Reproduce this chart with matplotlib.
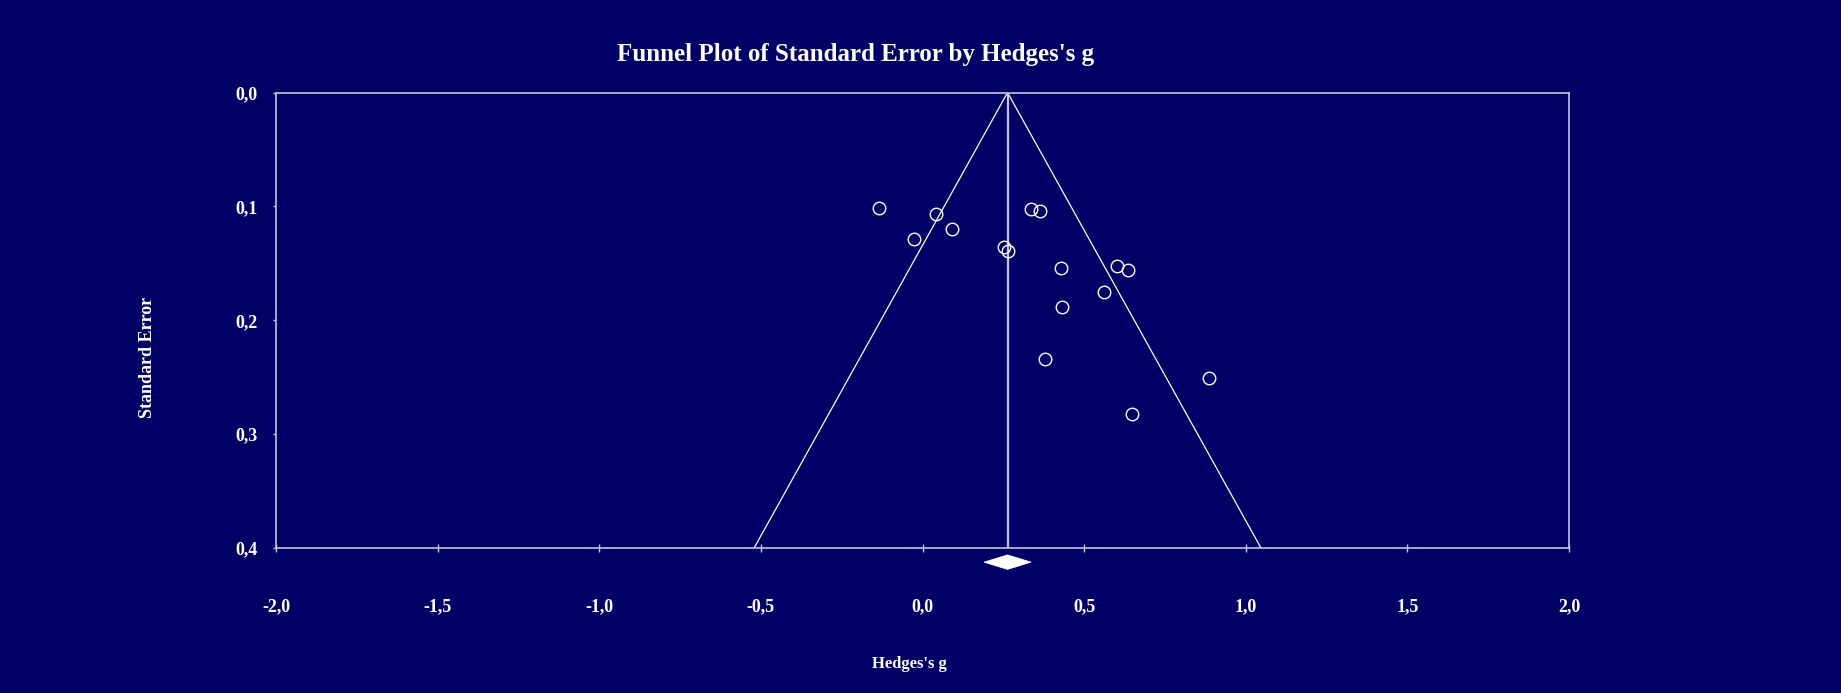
import matplotlib
matplotlib.use("Agg")
import matplotlib.pyplot as plt
from matplotlib.patches import Polygon

# Study effect sizes (Hedges's g) and their standard errors
hedges_g = [-0.136, 0.043, 0.090, -0.026, 0.253, 0.264, 0.337, 0.362,
            0.428, 0.602, 0.635, 0.562, 0.431, 0.380, 0.886, 0.649]
std_err = [0.101, 0.107, 0.120, 0.129, 0.136, 0.139, 0.102, 0.104,
           0.154, 0.152, 0.156, 0.175, 0.188, 0.234, 0.251, 0.282]

# Pooled estimate and its confidence interval
pooled_g = 0.263
pooled_lo = 0.190
pooled_hi = 0.336

x_ticks = [-2.0, -1.5, -1.0, -0.5, 0.0, 0.5, 1.0, 1.5, 2.0]
y_ticks = [0.0, 0.1, 0.2, 0.3, 0.4]

BG = "#000066"
FG = "white"
SPINE = "#c4c4dc"
FONT = "Liberation Serif"


def comma(v):
    return f"{v:.1f}".replace(".", ",")


fig = plt.figure(figsize=(18.41, 6.93), dpi=100, facecolor=BG)
ax = fig.add_axes([0.1499, 0.2092, 0.7024, 0.6573], facecolor=BG)

x_min, x_max = x_ticks[0], x_ticks[-1]
se_min, se_max = y_ticks[0], y_ticks[-1]
ax.set_xlim(x_min, x_max)
ax.set_ylim(se_max, se_min)

# Pseudo 95% confidence funnel around the pooled effect
se_line = [se_min, se_max]
ax.plot([pooled_g - 1.96 * s for s in se_line], se_line, color=FG, lw=0.9)
ax.plot([pooled_g + 1.96 * s for s in se_line], se_line, color=FG, lw=0.9)
ax.plot([pooled_g, pooled_g], se_line, color=SPINE, lw=1.6)

# Individual studies
ax.plot(hedges_g, std_err, linestyle="none", marker="o", markersize=9,
        markerfacecolor="none", markeredgecolor=FG, markeredgewidth=1.0,
        clip_on=False)

# Summary diamond just below the axis
span = se_max - se_min
y_mid = se_max + 0.031 * span
half_h = 0.016 * span
diamond = Polygon([(pooled_lo, y_mid), (pooled_g, y_mid - half_h),
                   (pooled_hi, y_mid), (pooled_g, y_mid + half_h)],
                  closed=True, facecolor=FG, edgecolor=FG, lw=0.5,
                  clip_on=False)
ax.add_patch(diamond)

for s in ax.spines.values():
    s.set_color(SPINE)
    s.set_linewidth(1.2)

ax.set_xticks(x_ticks)
ax.set_xticklabels([comma(v) for v in x_ticks])
ax.set_yticks(y_ticks)
ax.set_yticklabels([comma(v) for v in y_ticks])

ax.tick_params(axis="x", direction="inout", length=6, width=1, color=SPINE,
               pad=33, labelcolor=FG)
ax.tick_params(axis="y", direction="out", length=2.5, width=1, color=SPINE,
               pad=11, labelcolor=FG)
for lbl in ax.get_xticklabels() + ax.get_yticklabels():
    lbl.set_fontfamily(FONT)
    lbl.set_fontweight("bold")
    lbl.set_fontsize(13)

ax.set_xlabel("Hedges's g", fontfamily=FONT, fontweight="bold",
              fontsize=12, color=FG)
ax.xaxis.set_label_coords(0.4896, -0.236)
ax.set_ylabel("Standard Error", fontfamily=FONT, fontweight="bold",
              fontsize=13, color=FG)
ax.yaxis.set_label_coords(-0.0925, 0.419)

fig.text(856 / 1841, 1 - 55 / 693, "Funnel Plot of Standard Error by Hedges's g",
         ha="center", va="center", fontfamily=FONT, fontweight="bold",
         fontsize=18, color=FG)

fig.savefig("out.png", dpi=100, facecolor=BG)
